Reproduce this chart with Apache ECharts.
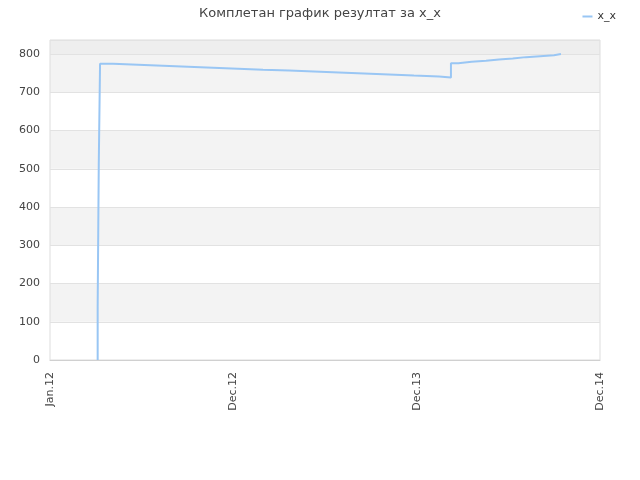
<!DOCTYPE html>
<html style="height: 100%">
<head>
    <meta charset="utf-8">
    <title>Комплетан график резултат за x_x</title>
</head>
<body style="height: 100%; margin: 0">
<div id="container" style="width: 640px; height: 480px"></div>
<script type="text/javascript" src="https://cdn.jsdelivr.net/npm/echarts@6/dist/echarts.min.js"></script>
<script type="text/javascript">
    // x position in "label gaps" * 100 (0 = Jan.12, 100 = Dec.12, 200 = Dec.13, 300 = Dec.14)
    var xPos = [26.0, 26.0, 26.6, 27.3, 34.4, 48.0, 61.6, 75.3, 88.9, 102.5, 116.2, 130.4, 144.0,
        157.6, 171.3, 184.9, 198.5, 212.2, 218.7, 222.7, 230.0, 237.8, 244.9, 252.4, 259.6, 267.3, 274.9, 278.7];
    var results = [0, 139, 512, 774.7, 772.1, 769.4, 766.8, 764.2, 761.6, 759.0, 757.2, 754.6, 751.9,
        749.3, 746.7, 744.0, 741.4, 738.8, 776.5, 779.9, 782.5, 785.9, 788.5, 792.2, 794.8, 797.4, 800.1, 800.1];
    var xTickLabels = ['Jan.12', 'Dec.12', 'Dec.13', 'Dec.14'];
    var seriesName = 'x_x';
    var yMax = 837;

    var points = [];
    for (var i = 0; i < xPos.length; i++) {
        points.push([xPos[i], results[i]]);
    }

    // background bands: every other 100 grey, the part above 800 a bit darker
    var bands = [];
    for (var b = 100; b < 800; b += 200) {
        bands.push([{yAxis: b, itemStyle: {color: '#f3f3f3'}}, {yAxis: b + 100}]);
    }
    bands.push([{yAxis: 800, itemStyle: {color: '#eeeeee'}}, {yAxis: yMax}]);

    var myChart = echarts.init(document.getElementById('container'));
    var option = {
        animation: false,
        textStyle: {fontFamily: 'DejaVu Sans'},
        title: {
            text: 'Комплетан график резултат за x_x',
            left: 'center',
            top: 2,
            textStyle: {fontSize: 13, fontWeight: 'normal', color: '#444'}
        },
        legend: {
            right: 19,
            top: 6,
            icon: 'rect',
            itemWidth: 10,
            itemHeight: 2,
            itemGap: 8,
            textStyle: {fontSize: 11, color: '#333'},
            data: [seriesName]
        },
        grid: {
            left: 50,
            right: 40,
            top: 40,
            bottom: 120,
            show: true,
            borderColor: '#dddddd',
            borderWidth: 1
        },
        xAxis: {
            type: 'value',
            min: 0,
            max: 300,
            interval: 100,
            axisLine: {show: true, lineStyle: {color: '#d0d0d0'}},
            axisTick: {show: false},
            splitLine: {show: false},
            axisLabel: {
                rotate: 90,
                fontSize: 11,
                color: '#444',
                margin: 12,
                formatter: function (v) {
                    return xTickLabels[Math.round(v / 100)];
                }
            }
        },
        yAxis: {
            type: 'value',
            min: 0,
            max: yMax,
            interval: 100,
            axisLine: {show: false},
            axisTick: {show: false},
            axisLabel: {fontSize: 11, color: '#444', margin: 10, showMaxLabel: false},
            splitLine: {show: true, lineStyle: {color: '#e2e2e2'}},
            splitArea: {show: false}
        },
        series: [
            {
                name: seriesName,
                type: 'line',
                step: 'end',
                showSymbol: false,
                color: '#99c6f4',
                lineStyle: {width: 2, color: '#99c6f4'},
                markArea: {
                    silent: true,
                    z: -1,
                    data: bands
                },
                data: points
            }
        ]
    };
    myChart.setOption(option, true);
</script>
</body>
</html>
